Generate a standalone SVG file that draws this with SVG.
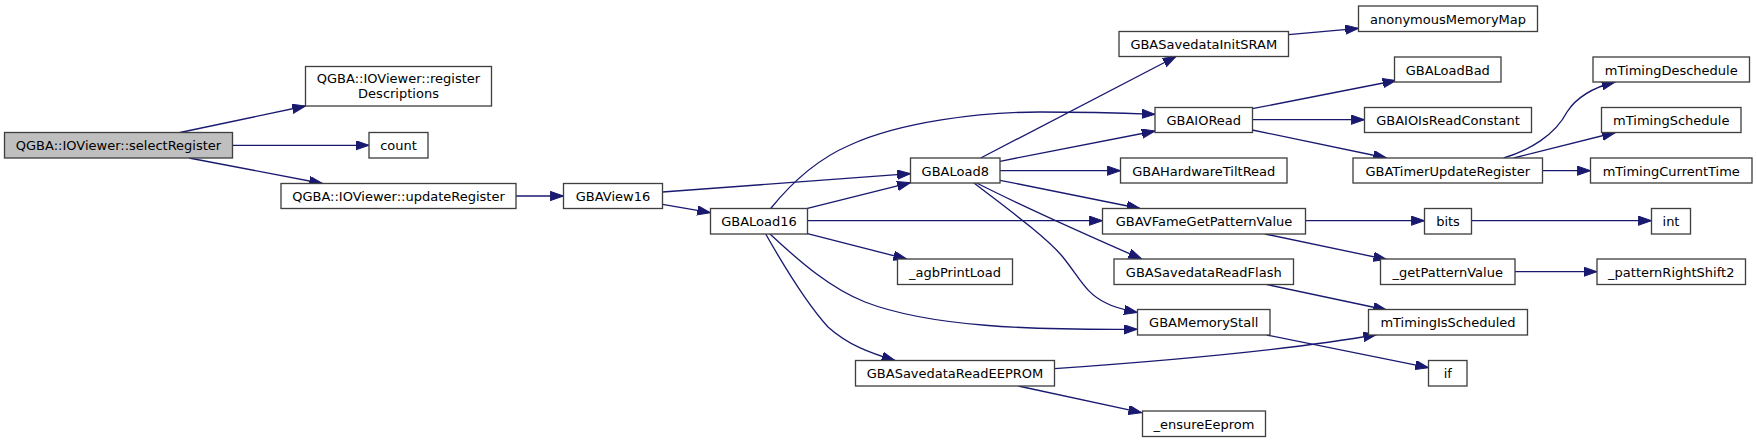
<svg xmlns="http://www.w3.org/2000/svg" width="1757" height="443" viewBox="0 0 1757 443">
<style>
.n rect{fill:#fff;stroke:#404040;stroke-width:1.33}
.n.root rect{fill:#bfbfbf}
.n text{font-family:"DejaVu Sans","Liberation Sans",sans-serif;font-size:13px;fill:#000;text-anchor:middle}
.e path{fill:none;stroke:#191970;stroke-width:1.33;marker-end:url(#ah)}
</style>
<defs>
<marker id="ah" markerUnits="userSpaceOnUse" markerWidth="14" markerHeight="10" viewBox="0 0 14 10" refX="13.3" refY="4.65" orient="auto">
<path d="M0,0 L13.3,4.65 L0,9.3 Z" fill="#191970" stroke="#191970" stroke-width="1"/>
</marker>
</defs>
<rect width="1757" height="443" fill="#fff"/>
<g id="edges" class="e">
<path d="M180,132.5 L305.5,106"/>
<path d="M232.5,145.3 L369,145.3"/>
<path d="M189,158 L322.5,183.5"/>
<path d="M516,196 L563.5,196"/>
<path d="M662.5,192 L910.5,173.7"/>
<path d="M662.5,204.3 L710.5,212.7"/>
<path d="M807.5,208.3 L910.5,182.7"/>
<path d="M770.7,208.5 C788,187 815,160 850,145 C900,122 980,112 1040,112 C1080,112 1120,113 1155,114.3"/>
<path d="M980.7,158 L1176,56.5"/>
<path d="M1000,161.3 L1155,131"/>
<path d="M1000,170.7 L1120.5,170.7"/>
<path d="M1000,180.3 L1140,208.5"/>
<path d="M807.5,220.7 L1102.5,220.7"/>
<path d="M976.7,183 C1010,200 1080,232 1141.7,259"/>
<path d="M974,183 C1005,207 1045,236 1062,256 C1080,278 1085,293 1106,303 C1115,308 1125,310 1137.3,312.5"/>
<path d="M770,234 C800,262 830,288 865,302 C930,327 1030,330 1137.3,329.3"/>
<path d="M765.7,234 C785,268 808,305 828,327 C848,345 870,353 895,360.5"/>
<path d="M807.5,233.7 L906.7,259"/>
<path d="M1054.5,368.7 C1150,362 1280,352 1376.7,334.5"/>
<path d="M1018.3,386 L1141.7,412.7"/>
<path d="M1288.5,34.7 L1358.5,28.3"/>
<path d="M1252.3,108.7 L1396,80.5"/>
<path d="M1252.5,119.7 L1364.5,119.7"/>
<path d="M1252.3,130 L1386.7,158"/>
<path d="M1503.7,158 C1530,150 1555,135 1567,112 C1578,95 1595,87 1615,82"/>
<path d="M1513.7,158 L1615.3,132.5"/>
<path d="M1542.5,170.7 L1590.5,170.7"/>
<path d="M1305.5,220.7 L1424.5,220.7"/>
<path d="M1471.5,220.7 L1651.5,220.7"/>
<path d="M1265,234 L1386.7,259.5"/>
<path d="M1515,271.7 L1597,271.7"/>
<path d="M1266.7,284.5 L1386.7,310"/>
<path d="M1266.7,335 L1428.5,367.7"/>
</g>
<g id="selectRegister" class="n root"><rect x="4.5" y="132.5" width="228" height="25.5"/><text x="118.5" y="150">QGBA::IOViewer::selectRegister</text></g>
<g id="registerDescriptions" class="n"><rect x="305.5" y="66.5" width="186" height="39.5"/><text x="398.5" y="83">QGBA::IOViewer::register</text><text x="398.5" y="97.5">Descriptions</text></g>
<g id="count" class="n"><rect x="369" y="132.5" width="59" height="25.5"/><text x="398.5" y="150">count</text></g>
<g id="updateRegister" class="n"><rect x="281" y="183.5" width="235" height="25"/><text x="398.5" y="201">QGBA::IOViewer::updateRegister</text></g>
<g id="GBAView16" class="n"><rect x="563.5" y="183.5" width="99" height="25"/><text x="613" y="201">GBAView16</text></g>
<g id="GBALoad16" class="n"><rect x="710.5" y="208.5" width="97" height="25.5"/><text x="759" y="226">GBALoad16</text></g>
<g id="GBALoad8" class="n"><rect x="910.5" y="158" width="89.5" height="25"/><text x="955.25" y="175.5">GBALoad8</text></g>
<g id="GBASavedataInitSRAM" class="n"><rect x="1119" y="31.5" width="169.5" height="25"/><text x="1203.75" y="49">GBASavedataInitSRAM</text></g>
<g id="anonymousMemoryMap" class="n"><rect x="1358.5" y="6" width="179" height="25.5"/><text x="1448" y="23.5">anonymousMemoryMap</text></g>
<g id="GBAIORead" class="n"><rect x="1155" y="107.5" width="97.5" height="25"/><text x="1203.75" y="125">GBAIORead</text></g>
<g id="GBALoadBad" class="n"><rect x="1394.5" y="57" width="106.5" height="25"/><text x="1447.75" y="74.5">GBALoadBad</text></g>
<g id="GBAIOIsReadConstant" class="n"><rect x="1364.5" y="107.5" width="167" height="25"/><text x="1448" y="125">GBAIOIsReadConstant</text></g>
<g id="GBATimerUpdateRegister" class="n"><rect x="1353" y="158" width="189.5" height="25"/><text x="1447.75" y="175.5">GBATimerUpdateRegister</text></g>
<g id="mTimingDeschedule" class="n"><rect x="1593" y="57" width="156.5" height="25"/><text x="1671.25" y="74.5">mTimingDeschedule</text></g>
<g id="mTimingSchedule" class="n"><rect x="1601.5" y="107.5" width="139.5" height="25"/><text x="1671.25" y="125">mTimingSchedule</text></g>
<g id="mTimingCurrentTime" class="n"><rect x="1590.5" y="158" width="161.5" height="25"/><text x="1671.25" y="175.5">mTimingCurrentTime</text></g>
<g id="GBAHardwareTiltRead" class="n"><rect x="1120.5" y="158" width="166.5" height="25"/><text x="1203.75" y="175.5">GBAHardwareTiltRead</text></g>
<g id="GBAVFameGetPatternValue" class="n"><rect x="1102.5" y="208.5" width="203" height="25.5"/><text x="1204" y="226">GBAVFameGetPatternValue</text></g>
<g id="bits" class="n"><rect x="1424.5" y="208.5" width="47" height="25.5"/><text x="1448" y="226">bits</text></g>
<g id="int" class="n"><rect x="1651.5" y="208.5" width="39" height="25.5"/><text x="1671" y="226">int</text></g>
<g id="_agbPrintLoad" class="n"><rect x="897.5" y="259" width="115" height="25.5"/><text x="955" y="276.5">_agbPrintLoad</text></g>
<g id="GBASavedataReadFlash" class="n"><rect x="1114" y="259" width="179.5" height="25.5"/><text x="1203.75" y="276.5">GBASavedataReadFlash</text></g>
<g id="_getPatternValue" class="n"><rect x="1380.5" y="259" width="134.5" height="25.5"/><text x="1447.75" y="276.5">_getPatternValue</text></g>
<g id="_patternRightShift2" class="n"><rect x="1597" y="259" width="148.5" height="25.5"/><text x="1671.25" y="276.5">_patternRightShift2</text></g>
<g id="GBAMemoryStall" class="n"><rect x="1137.5" y="309.5" width="132.5" height="25.5"/><text x="1203.75" y="327">GBAMemoryStall</text></g>
<g id="mTimingIsScheduled" class="n"><rect x="1368.5" y="309.5" width="159" height="25.5"/><text x="1448" y="327">mTimingIsScheduled</text></g>
<g id="if" class="n"><rect x="1428.5" y="360.5" width="38.5" height="25.5"/><text x="1447.75" y="378">if</text></g>
<g id="GBASavedataReadEEPROM" class="n"><rect x="855.5" y="360.5" width="199" height="25.5"/><text x="955" y="378">GBASavedataReadEEPROM</text></g>
<g id="_ensureEeprom" class="n"><rect x="1142.5" y="411" width="123" height="25.5"/><text x="1204" y="428.5">_ensureEeprom</text></g>
</svg>
